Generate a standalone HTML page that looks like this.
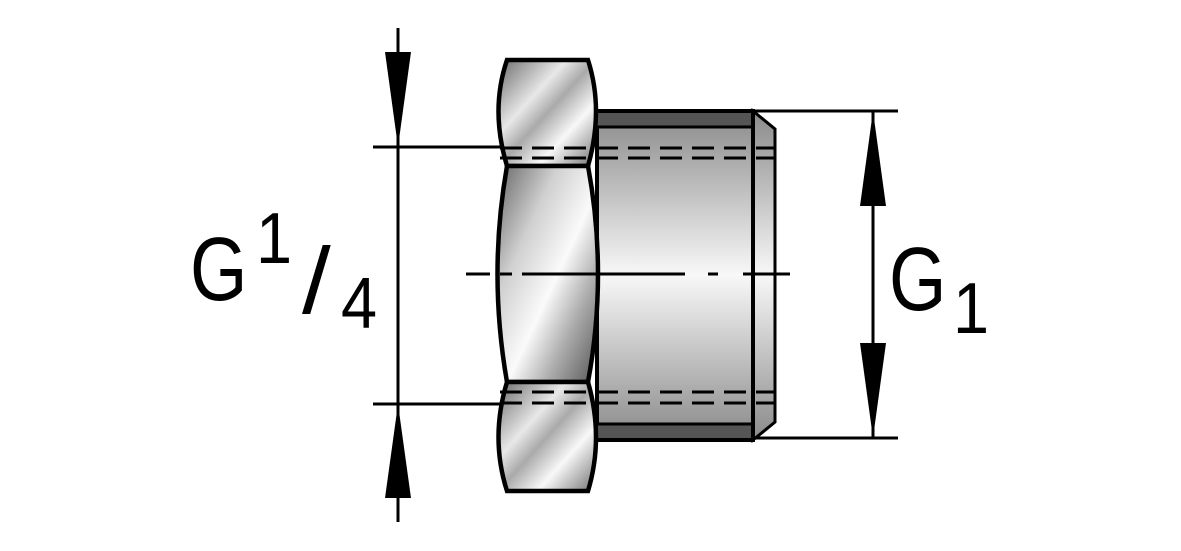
<!DOCTYPE html>
<html><head><meta charset="utf-8"><style>html,body{margin:0;padding:0;background:#fff}svg{display:block}</style></head>
<body>
<svg width="1181" height="551" viewBox="0 0 1181 551" xmlns="http://www.w3.org/2000/svg" font-family="DejaVu Sans, Liberation Sans, sans-serif">
<defs>
<linearGradient id="body" x1="0" y1="0" x2="0" y2="1">
<stop offset="0" stop-color="#8a8a8a"/><stop offset="0.5" stop-color="#f8f8f8"/><stop offset="1" stop-color="#8a8a8a"/>
</linearGradient>
<linearGradient id="nut" x1="0" y1="0" x2="1" y2="1">
<stop offset="0" stop-color="#6a6a6a"/><stop offset="0.35" stop-color="#e8e8e8"/><stop offset="0.5" stop-color="#aaa"/><stop offset="0.7" stop-color="#f8f8f8"/><stop offset="1" stop-color="#707070"/>
</linearGradient>
<linearGradient id="nutm" x1="0" y1="0" x2="1" y2="1">
<stop offset="0" stop-color="#666"/><stop offset="0.3" stop-color="#d0d0d0"/><stop offset="0.55" stop-color="#fafafa"/><stop offset="0.75" stop-color="#aaa"/><stop offset="1" stop-color="#555"/>
</linearGradient>
</defs>
<g stroke="#000" stroke-linecap="butt">
<rect x="597" y="111" width="156" height="329" fill="url(#body)" stroke-width="4"/>
<rect x="597" y="111" width="156" height="16" fill="#555" stroke-width="0"/>
<rect x="597" y="424" width="156" height="16" fill="#555" stroke-width="0"/>
<line x1="597" y1="111" x2="753" y2="111" stroke-width="4"/>
<line x1="597" y1="440" x2="753" y2="440" stroke-width="4"/>
<line x1="597" y1="127" x2="753" y2="127" stroke-width="3"/>
<line x1="597" y1="424" x2="753" y2="424" stroke-width="3"/>
<polygon points="753,111 775,129 775,422 753,440" fill="url(#body)" stroke-width="3"/>
<line x1="753" y1="111" x2="753" y2="440" stroke-width="4"/>
<path d="M507,60 L588,60 Q604,110 588,166 L507,166 Q490,110 507,60 Z" fill="url(#nut)" stroke-width="4.5"/>
<path d="M507,166 L588,166 Q608,274 588,382 L507,382 Q488,274 507,166 Z" fill="url(#nutm)" stroke-width="4.5"/>
<path d="M507,382 L588,382 Q604,438 588,491 L507,491 Q490,438 507,382 Z" fill="url(#nut)" stroke-width="4.5"/>
<g stroke-width="3" stroke-dasharray="22,10">
<line x1="500" y1="148" x2="775" y2="148"/><line x1="500" y1="158" x2="775" y2="158"/>
<line x1="500" y1="392" x2="775" y2="392"/><line x1="500" y1="403" x2="775" y2="403"/>
</g>
<path d="M466,274 H490 M500,274 H512 M522,274 H685 M708,274 H718 M743,274 H790" stroke-width="3" fill="none"/>
<g stroke-width="3">
<line x1="398" y1="28" x2="398" y2="522"/>
<line x1="373" y1="147" x2="500" y2="147"/>
<line x1="373" y1="404" x2="500" y2="404"/>
<line x1="753" y1="111" x2="898" y2="111"/>
<line x1="753" y1="438" x2="898" y2="438"/>
<line x1="873" y1="111" x2="873" y2="438"/>
</g>
<g stroke="none" fill="#000">
<polygon points="385,52 411,52 398,147"/>
<polygon points="385,498 411,498 398,404"/>
<polygon points="860,206 886,206 873,111"/>
<polygon points="860,343 886,343 873,438"/>
</g>
</g>
<g fill="#000" font-family="Liberation Sans, sans-serif">
<text x="0" y="300" font-size="90" transform="translate(190,0) scale(0.82,1)">G</text>
<text x="0" y="263" font-size="72" transform="translate(256,0) scale(0.9,1)">1</text>
<text x="0" y="313" font-size="94" transform="translate(302,0) scale(1.1,1)">/</text>
<text x="0" y="328" font-size="72" transform="translate(341,0) scale(0.9,1)">4</text>
<text x="0" y="310" font-size="90" transform="translate(889,0) scale(0.82,1)">G</text>
<text x="0" y="333" font-size="72" transform="translate(953,0) scale(0.9,1)">1</text>
</g>
</svg>
</body></html>
